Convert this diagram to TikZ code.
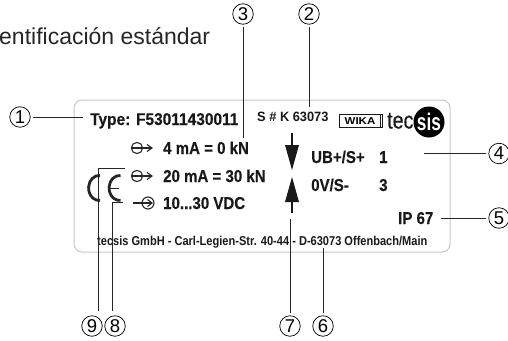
\documentclass[tikz,border=0pt]{standalone}
\usepackage{fontspec}
\setmainfont{Liberation Sans}
\newfontfamily\condb[FakeStretch=0.875,FakeBold=0.25]{Liberation Sans Bold}
\newfontfamily\typeb[FakeStretch=0.91,FakeBold=0.25]{Liberation Sans Bold}
\newfontfamily\snrb[FakeStretch=0.95]{Liberation Sans Bold}
\newfontfamily\footb[FakeStretch=0.86]{Liberation Sans Bold}
\newfontfamily\logob[FakeStretch=0.72]{Liberation Sans Bold}
\newfontfamily\teclog[FakeStretch=0.82,FakeBold=0.5]{Liberation Sans}
\newfontfamily\wikaf[FakeStretch=1.15]{Liberation Sans Bold}
\begin{document}
\begin{tikzpicture}[x=1pt,y=-1pt,
  lab/.style={inner sep=0pt,anchor=base west,text=black!90},
  biglab/.style={lab,font=\condb\fontsize{17.2}{18}\selectfont},
  callout/.style={circle,draw,line width=.7pt,inner sep=0pt,minimum size=20.5pt,outer sep=3pt,font=\fontsize{18.5}{18}\selectfont},
  leader/.style={line width=1pt,black!85},
  sym/.style={line width=1.1pt,black!85},
  cemark/.style={line width=2.8pt,black!85},
  card/.style={draw=black!22,line width=1pt,rounded corners=8pt}]
\useasboundingbox (0,0) rectangle (508,340);
\node[lab,text=black!85,font=\fontsize{23}{25}\selectfont] (head) at (-1,44) {entificación estándar};
\draw[card] (74,100) rectangle (450,252);
% texts
\node[lab,font=\typeb\fontsize{17}{18}\selectfont] (type) at (90,125) {Type: F53011430011};
\node[lab,font=\snrb\fontsize{13.5}{14}\selectfont] (snr) at (257,121) {S \# K 63073};
\node[biglab] (l1) at (163,154) {4 mA = 0 kN};
\node[biglab] (l2) at (163,182) {20 mA = 30 kN};
\node[biglab] (l3) at (163,209) {10...30 VDC};
\node[biglab] (ub) at (311,163) {UB+/S+};
\node[biglab] (ub1) at (379,163) {1};
\node[biglab] (ov) at (311,191) {0V/S-};
\node[biglab] (ov3) at (379,191) {3};
\node[biglab] (ip) at (398,224) {IP 67};
\node[lab,font=\footb\fontsize{12.85}{14}\selectfont] (foot) at (97,245) {tecsis GmbH - Carl-Legien-Str. 40-44 - D-63073 Offenbach/Main};
% logos
\node[draw=black!90,line width=1.3pt,minimum width=43pt,minimum height=13pt,inner sep=0pt,font=\wikaf\fontsize{10}{10}\selectfont] (wika) at (361,121) {\hspace*{-2pt}WIKA};
\draw[line width=1pt,black!90] (wika.north east) ++(-2.5,0) -- ([xshift=-2.5pt]wika.south east);
\node[lab,font=\teclog\fontsize{24}{24}\selectfont] (tec) at (387,128.5) {tec};
\node[circle,fill=black,minimum size=31pt,inner sep=0pt,text=white,font=\logob\fontsize{24}{24}\selectfont] (sis) at (429,122) {sis};
% CE mark
\draw[cemark] (100,175.5) arc[start angle=-85,end angle=-275,x radius=10.5,y radius=12.5];
\draw[cemark] (120.5,175.5) arc[start angle=-85,end angle=-275,x radius=10.5,y radius=12.5];
\draw[line width=1.8pt,black!85] (109,188.5) -- (118.5,188.5);
% output symbols
\foreach \yy in {148,176}{
  \draw[sym] (137,\yy) circle[radius=5.6];
  \draw[sym] (131.5,\yy) -- (151,\yy);
  \draw[sym] (147,\yy-3.5) -- (152,\yy) -- (147,\yy+3.5);
}
% input symbol
\draw[sym] (148,203) circle[radius=6];
\draw[sym] (133,203) -- (151,203);
\draw[sym] (147.5,199.5) -- (152,203) -- (147.5,206.5);
% big arrows
\fill[black!90] (285,145) -- (299,145) -- (292,170) -- cycle;
\draw[line width=1.2pt,black!90] (292,133) -- (292,146);
\fill[black!90] (285,202) -- (299,202) -- (292,177) -- cycle;
\draw[line width=1.2pt,black!90] (292,201) -- (292,213);
% callouts
\node[callout] (n1) at (20,117) {1};
\node[callout] (n2) at (309,14) {2};
\node[callout] (n3) at (243,14) {3};
\node[callout] (n4) at (499,153.5) {4};
\node[callout] (n5) at (499,218) {5};
\node[callout] (n6) at (323,326) {6};
\node[callout] (n7) at (290,326) {7};
\node[callout] (n8) at (115,326) {8};
\node[callout] (n9) at (92,326) {9};
\coordinate (c1) at (83,117);
\coordinate (c2) at (309,107);
\coordinate (c3) at (243,138);
\coordinate (c4) at (424,153.5);
\coordinate (c5) at (441,218);
\coordinate (c6) at (323,248);
\coordinate (c7) at (290,219);
\coordinate (c8a) at (123,202);
\coordinate (c8b) at (112,202);
\coordinate (c8c) at (112,311);
\coordinate (c9a) at (125,168);
\coordinate (c9b) at (98,168);
\coordinate (c9c) at (98,311);
\draw[leader] (n1) -- (c1);
\draw[leader] (n2) -- (c2);
\draw[leader] (n3) -- (c3);
\draw[leader] (n4) -- (c4);
\draw[leader] (n5) -- (c5);
\draw[leader] (n6) -- (c6);
\draw[leader] (n7) -- (c7);
\draw[leader] (c8a) -- (c8b) -- (c8c);
\draw[leader] (c9a) -- (c9b) -- (c9c);
\end{tikzpicture}
\end{document}
